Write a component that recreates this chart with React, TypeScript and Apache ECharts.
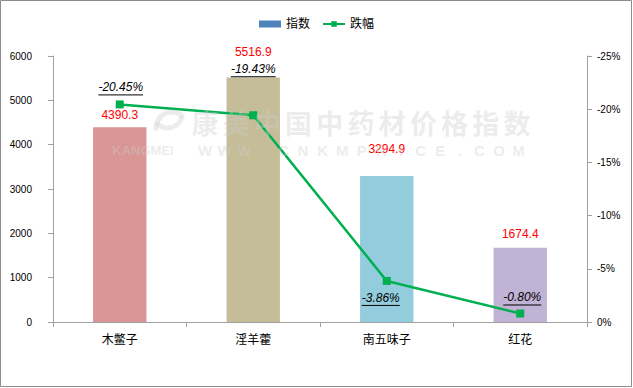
import React, { useEffect, useRef } from "react";
import * as echarts from "echarts";

const categories = ["木鳖子", "淫羊藿", "南五味子", "红花"];
const indexValues = [4390.3, 5516.9, 3294.9, 1674.4];
const changeValues = [-20.45, -19.43, -3.86, -0.8];
const changeLabels = ["-20.45%", "-19.43%", "-3.86%", "-0.80%"];
const leftTicks = { min: 0, max: 6000, interval: 1000 };
const rightTicks = { min: -25, max: 0, interval: 5 };

const barColors = ["#DA9694", "#C4BD97", "#93CDDD", "#C1B3D5"];
const barLabelOffsets = [
  [0, -1],
  [0, -14],
  [0, -16],
  [0, -3],
];
const lineLabelOffsets = [
  [1, -17],
  [0, -46],
  [-6, 17],
  [2, -16],
];

const FONT = '"Liberation Sans", "Noto Sans CJK SC", sans-serif';
const WM = "rgba(205,205,205,0.38)";

let measureCtx: CanvasRenderingContext2D | null = null;
function textWidth(text: string, font: string): number {
  if (!measureCtx) {
    const c = document.createElement("canvas");
    measureCtx = c.getContext("2d");
  }
  if (!measureCtx) return text.length * 6.3;
  measureCtx.font = font;
  return measureCtx.measureText(text).width;
}

function watermark(): any[] {
  const items: any[] = [];
  const cn = "康美中国中药材价格指数";
  for (let i = 0; i < cn.length; i++) {
    items.push({
      type: "text",
      x: 205 + i * 31.2,
      y: 122,
      silent: true,
      z: 10,
      style: {
        text: cn[i],
        font: 'bold 27px "Noto Sans CJK SC", sans-serif',
        fill: WM,
        align: "center",
        verticalAlign: "middle",
      },
    });
  }
  const en = "WWW.CNKMPRICE.COM";
  for (let i = 0; i < en.length; i++) {
    items.push({
      type: "text",
      x: 205 + i * 19.6,
      y: 150,
      silent: true,
      z: 10,
      style: {
        text: en[i],
        font: 'bold 15px "Liberation Sans", sans-serif',
        fill: WM,
        align: "center",
        verticalAlign: "middle",
      },
    });
  }
  items.push({
    type: "text",
    x: 143,
    y: 150,
    silent: true,
    z: 10,
    style: {
      text: "KANGMEI",
      font: 'bold 13px "Liberation Sans", sans-serif',
      fill: WM,
      align: "center",
      verticalAlign: "middle",
    },
  });
  items.push({
    type: "arc",
    silent: true,
    z: 10,
    shape: { cx: 172, cy: 128, r: 16, startAngle: Math.PI * 0.95, endAngle: Math.PI * 1.75 },
    style: { stroke: WM, lineWidth: 5, fill: "none" },
  });
  items.push({
    type: "arc",
    silent: true,
    z: 10,
    shape: { cx: 168, cy: 114, r: 14, startAngle: Math.PI * 0.05, endAngle: Math.PI * 0.8 },
    style: { stroke: WM, lineWidth: 5, fill: "none" },
  });
  items.push({
    type: "rect",
    silent: true,
    z: 20,
    shape: { x: 0.5, y: 0.5, width: 631, height: 386 },
    style: { stroke: "#8c8c8c", fill: "none", lineWidth: 1 },
  });
  return items;
}

export default function App() {
  const ref = useRef<HTMLDivElement>(null);

  useEffect(() => {
    if (!ref.current) return;
    const chart = echarts.init(ref.current, null, { renderer: "svg" });
    const axisLineColor = "#a0a0a0";

    const option: any = {
      animation: false,
      backgroundColor: "#ffffff",
      textStyle: { fontFamily: FONT },
      legend: {
        top: 13,
        left: "center",
        itemGap: 12,
        itemWidth: 22,
        itemHeight: 7,
        textStyle: { fontSize: 12, color: "#000", fontFamily: FONT },
        data: [
          { name: "指数", icon: "rect" },
          { name: "跌幅" },
        ],
      },
      grid: { left: 53, right: 46, top: 56, bottom: 66 },
      xAxis: {
        type: "category",
        data: categories,
        boundaryGap: true,
        axisLine: { lineStyle: { color: axisLineColor } },
        axisTick: { show: true, length: 5, interval: 0, lineStyle: { color: axisLineColor } },
        axisLabel: { color: "#000", fontSize: 12, margin: 12, fontFamily: FONT },
      },
      yAxis: [
        {
          type: "value",
          min: leftTicks.min,
          max: leftTicks.max,
          interval: leftTicks.interval,
          axisLine: { show: true, lineStyle: { color: axisLineColor } },
          axisTick: { show: true, length: 5, lineStyle: { color: axisLineColor } },
          splitLine: { show: false },
          axisLabel: {
            color: "#000",
            fontSize: 10,
            margin: 21,
            fontFamily: FONT,
            formatter: (v: number) => String(v),
          },
        },
        {
          type: "value",
          min: rightTicks.min,
          max: rightTicks.max,
          interval: rightTicks.interval,
          inverse: true,
          position: "right",
          axisLine: { show: true, lineStyle: { color: axisLineColor } },
          axisTick: { show: true, length: 5, lineStyle: { color: axisLineColor } },
          splitLine: { show: false },
          axisLabel: {
            color: "#000",
            fontSize: 10,
            margin: 10,
            fontFamily: FONT,
            formatter: (v: number) => `${v}%`,
          },
        },
      ],
      series: [
        {
          name: "指数",
          type: "bar",
          barWidth: "40%",
          itemStyle: { color: "#4F81BD" },
          data: indexValues.map((v, i) => ({
            value: v,
            itemStyle: { color: barColors[i] },
            label: { offset: barLabelOffsets[i] },
          })),
          label: {
            show: true,
            position: "top",
            color: "#FF0000",
            fontSize: 12,
            fontFamily: FONT,
            formatter: (p: any) => p.value.toFixed(1),
          },
          z: 2,
        },
        {
          name: "跌幅",
          type: "line",
          yAxisIndex: 1,
          data: changeValues,
          symbol: "rect",
          symbolSize: 8,
          lineStyle: { color: "#00B050", width: 2.5 },
          itemStyle: { color: "#00B050" },
          z: 3,
        },
        {
          name: "跌幅标签",
          type: "custom",
          yAxisIndex: 1,
          silent: true,
          z: 5,
          data: changeValues.map((v, i) => [i, v]),
          renderItem: (params: any, api: any) => {
            const idx = params.dataIndex;
            const pt = api.coord([api.value(0), api.value(1)]);
            const off = lineLabelOffsets[idx];
            const x = pt[0] + off[0];
            const y = pt[1] + off[1];
            const text = changeLabels[idx];
            const font = `italic 12px ${FONT}`;
            const w = textWidth(text, font);
            return {
              type: "group",
              children: [
                {
                  type: "text",
                  x,
                  y,
                  style: {
                    text,
                    font,
                    fill: "#000",
                    align: "center",
                    verticalAlign: "middle",
                  },
                },
                {
                  type: "line",
                  shape: { x1: x - w / 2, y1: y + 7.5, x2: x + w / 2, y2: y + 7.5 },
                  style: { stroke: "#000", lineWidth: 1 },
                },
              ],
            };
          },
        },
      ],
      graphic: watermark(),
    };

    chart.setOption(option);
    return () => chart.dispose();
  }, []);

  return (
    <div
      ref={ref}
      style={{ position: "absolute", left: 0, top: 0, width: 633, height: 388 }}
    />
  );
}
